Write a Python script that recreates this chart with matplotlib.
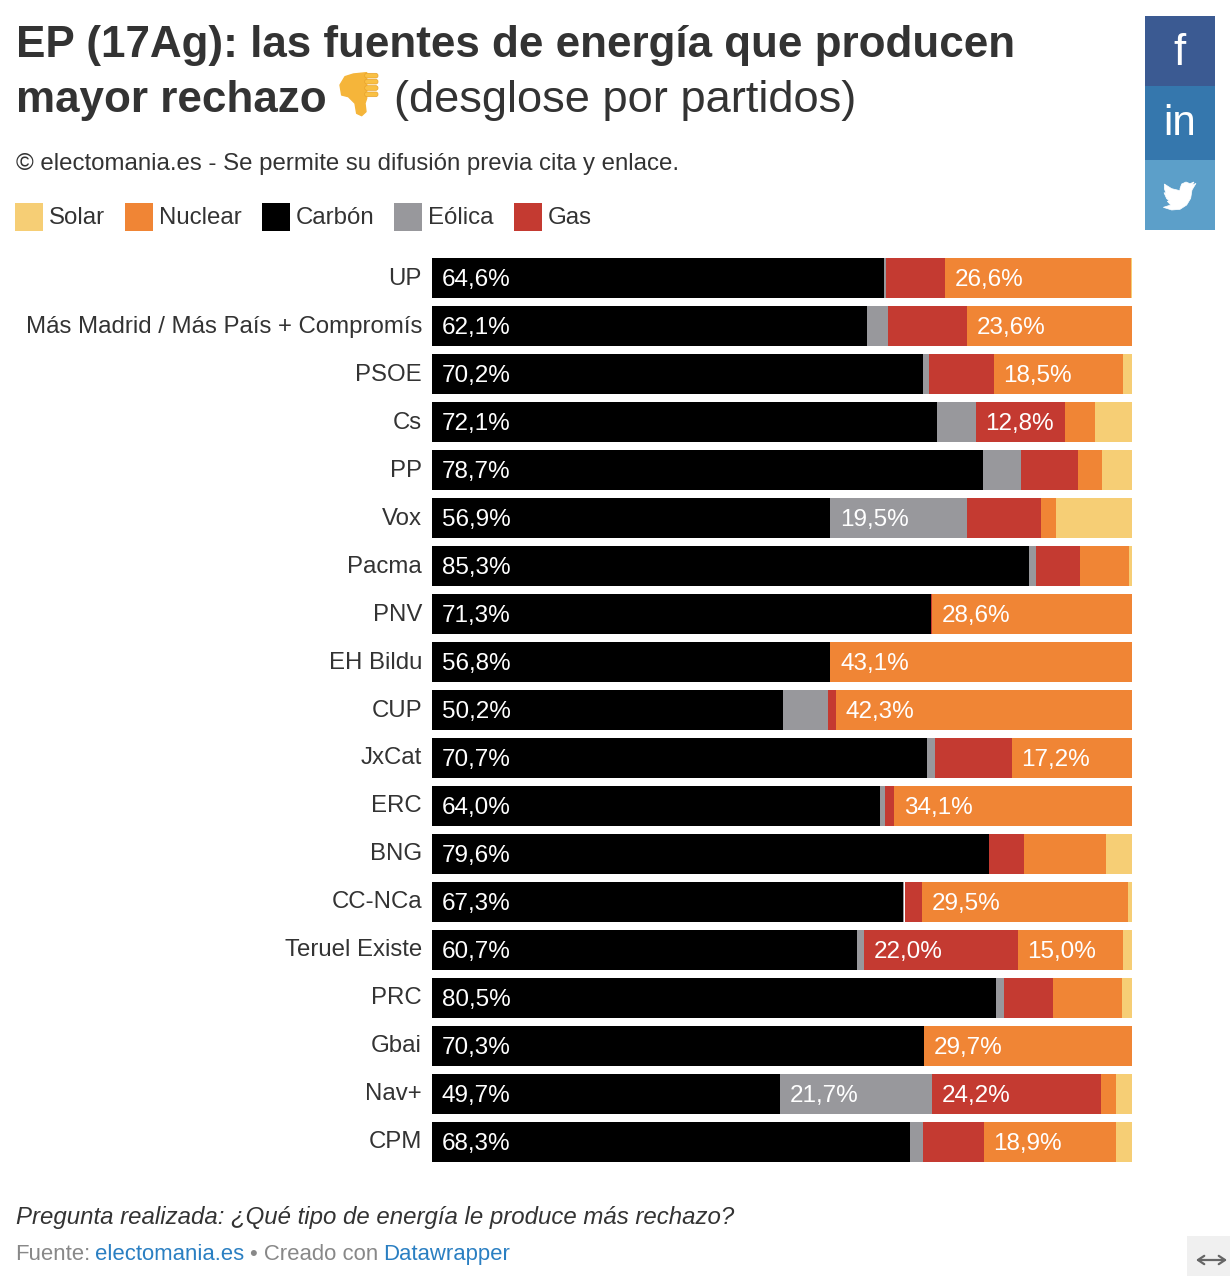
import matplotlib
matplotlib.use('Agg')
import matplotlib.pyplot as plt
from matplotlib.patches import Rectangle, Polygon, FancyBboxPatch

plt.rcParams['font.family'] = ['Liberation Sans', 'DejaVu Sans']

parties = ['UP', 'Más Madrid / Más País + Compromís', 'PSOE', 'Cs', 'PP', 'Vox', 'Pacma', 'PNV',
           'EH Bildu', 'CUP', 'JxCat', 'ERC', 'BNG', 'CC-NCa', 'Teruel Existe', 'PRC', 'Gbai',
           'Nav+', 'CPM']
carbon = [64.6, 62.1, 70.2, 72.1, 78.7, 56.9, 85.3, 71.3, 56.8, 50.2, 70.7, 64.0, 79.6, 67.3, 60.7, 80.5, 70.3, 49.7, 68.3]
eolica = [0.3, 3.0, 0.8, 5.55, 5.4, 19.5, 1.0, 0.0, 0.0, 6.4, 1.2, 0.7, 0.0, 0.2, 1.0, 1.2, 0.0, 21.7, 1.8]
gas = [8.4, 11.3, 9.25, 12.8, 8.2, 10.6, 6.3, 0.1, 0.1, 1.1, 10.9, 1.3, 5.0, 2.45, 22.0, 7.0, 0.0, 24.2, 8.7]
nuclear = [26.6, 23.6, 18.5, 4.3, 3.4, 2.1, 7.0, 28.6, 43.1, 42.3, 17.2, 34.1, 11.7, 29.5, 15.0, 9.9, 29.7, 2.1, 18.9]
solar = [0.1, 0.1, 1.3, 5.25, 4.3, 10.9, 0.4, 0.0, 0.0, 0.0, 0.0, 0.0, 3.7, 0.6, 1.3, 1.4, 0.0, 2.3, 2.3]

series = [('Carbón', carbon, '#000000'), ('Eólica', eolica, '#98989c'), ('Gas', gas, '#c43a31'),
          ('Nuclear', nuclear, '#f08535'), ('Solar', solar, '#f6ce75')]
legend_items = [('Solar', '#f6ce75', 15), ('Nuclear', '#f08535', 125), ('Carbón', '#000000', 262),
                ('Eólica', '#98989c', 394), ('Gas', '#c43a31', 514)]

W, H = 1230, 1276
PT = 0.72  # one pixel in points at dpi 100
fig = plt.figure(figsize=(W / 100, H / 100), dpi=100)

# overlay in pixel coordinates for the page furniture
page = fig.add_axes([0, 0, 1, 1])
page.set_xlim(0, W)
page.set_ylim(H, 0)
page.axis('off')

# bars
top, bottom = 258 - 4, 1162 + 4
ax = fig.add_axes([432 / W, 1 - bottom / H, 700 / W, (bottom - top) / H])
ax.set_xlim(0, 100)
ax.set_ylim(len(parties) - 0.5, -0.5)
ax.axis('off')

rows = range(len(parties))
left = [0.0] * len(parties)
for name, values, color in series:
    ax.barh(rows, values, left=left, height=40 / 48, color=color, linewidth=0, antialiased=False)
    for i in rows:
        if values[i] >= 12:
            label = f'{values[i]:.1f}%'.replace('.', ',')
            ax.annotate(label, (left[i], i), xytext=(7.0, 0.4), textcoords='offset points',
                        color='white', fontsize=24.2 * PT, va='center_baseline', ha='left')
    left = [a + b for a, b in zip(left, values)]

for i in rows:
    page.text(422, 258 + 47.95 * i + 27, parties[i], ha='right', va='baseline',
              fontsize=24 * PT, color='#333333')

# title
page.text(16, 57, 'EP (17Ag): las fuentes de energía que producen', fontsize=44 * PT,
          fontweight='bold', color='#333333', va='baseline')
page.text(16, 112, 'mayor rechazo', fontsize=44 * PT, fontweight='bold', color='#333333', va='baseline')
page.text(394, 112, '(desglose por partidos)', fontsize=45.3 * PT, color='#333333', va='baseline')

# thumbs down emoji
thumb = [(60, 45), (75, 20), (100, 12), (140, 8), (140, 85), (135, 100), (138, 125), (125, 137),
         (110, 130), (105, 100), (85, 80), (65, 75)]
page.add_patch(Polygon([(320 + x / 3, 70 + y / 3) for x, y in thumb], closed=True, facecolor='#f5b53a',
                       edgecolor='#f5b53a', linewidth=1, joinstyle='round'))
for y0 in (8, 26, 45, 64):
    page.add_patch(FancyBboxPatch((320 + 134 / 3, 70 + (y0 + 2) / 3), 40 / 3, 14 / 3,
                                  boxstyle='round,pad=0,rounding_size=2.2', facecolor='#f9c044',
                                  edgecolor='#e8a22c', linewidth=0.5))

page.text(16, 170, '© electomania.es - Se permite su difusión previa cita y enlace.',
          fontsize=24 * PT, color='#333333', va='baseline')

# legend
for name, color, x in legend_items:
    page.add_patch(Rectangle((x, 203), 28, 28, facecolor=color, linewidth=0))
    page.text(x + 34, 224, name, fontsize=24 * PT, color='#333333', va='baseline')

# footer
page.text(16, 1224, 'Pregunta realizada: ¿Qué tipo de energía le produce más rechazo?', fontsize=24 * PT,
          style='italic', color='#333333', va='baseline')
page.text(15.5, 1260, 'Fuente:', fontsize=22.2 * PT, color='#888888', va='baseline')
page.text(95.5, 1260, 'electomania.es', fontsize=22.2 * PT, color='#2a7fc2', va='baseline')
page.text(250, 1260, '• Creado con', fontsize=22.2 * PT, color='#888888', va='baseline')
page.text(383.5, 1260, 'Datawrapper', fontsize=22.2 * PT, color='#2a7fc2', va='baseline')

# share buttons
page.add_patch(Rectangle((1145, 16), 70, 70, facecolor='#3b5a92', linewidth=0))
page.add_patch(Rectangle((1145, 86), 70, 74, facecolor='#3577ad', linewidth=0))
page.add_patch(Rectangle((1145, 160), 70, 70, facecolor='#5c9fc9', linewidth=0))
page.text(1180, 65, 'f', fontsize=44 * PT, color='white', ha='center', va='baseline')
page.text(1180, 135, 'in', fontsize=42 * PT, color='white', ha='center', va='baseline')
bird = [(198, 550), (186, 556), (192, 546), (180, 551), (168, 546), (155, 552), (150, 566), (150, 572),
        (125, 566), (103, 552), (103, 566), (108, 580), (102, 578), (110, 596), (118, 602), (112, 604),
        (122, 615), (100, 622), (125, 630), (150, 628), (170, 615), (182, 595), (186, 570)]
page.add_patch(Polygon([(1130 + x / 3, y / 3) for x, y in bird], closed=True, facecolor='white',
                       edgecolor='white', linewidth=0.5))

# resize handle
page.add_patch(Rectangle((1187, 1236), 43, 40, facecolor='#f0f0f0', linewidth=0))
page.annotate('', xy=(1196, 1260), xytext=(1227, 1260),
              arrowprops=dict(arrowstyle='<->,head_length=0.45,head_width=0.3', color='#666666',
                              lw=1.6, shrinkA=0, shrinkB=0))

fig.savefig('out.png', dpi=100, facecolor='white')
